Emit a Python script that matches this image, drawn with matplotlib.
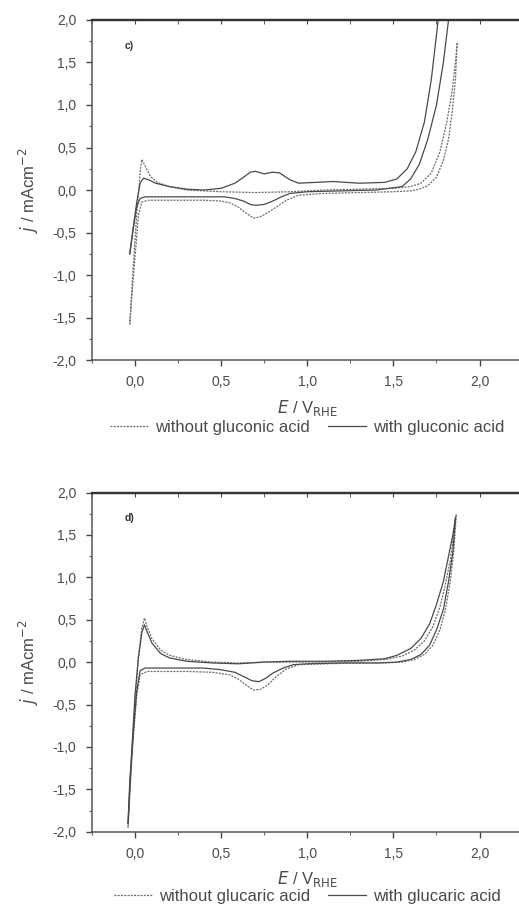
import numpy as np
import matplotlib.pyplot as plt
from matplotlib.ticker import MultipleLocator, FuncFormatter

plt.rcParams['font.family'] = ['Liberation Sans', 'DejaVu Sans']

# Panel c: gluconic acid --------------------------------------------------------------------------------------------
c_wo_up_E = [-0.03, -0.01, 0.01, 0.03, 0.04, 0.06, 0.09, 0.13, 0.2, 0.3, 0.5, 0.7, 0.9, 1.1, 1.3, 1.5, 1.6, 1.66,
             1.72, 1.77, 1.81, 1.84, 1.86, 1.87]
c_wo_up_j = [-1.58, -0.9, -0.3, 0.2, 0.36, 0.28, 0.16, 0.09, 0.04, 0.0, -0.02, -0.03, -0.02, 0.0, 0.01, 0.02, 0.04,
             0.08, 0.2, 0.45, 0.8, 1.15, 1.5, 1.73]
c_wo_dn_E = [1.87, 1.86, 1.84, 1.82, 1.79, 1.75, 1.7, 1.65, 1.6, 1.5, 1.3, 1.1, 0.95, 0.88, 0.82, 0.76, 0.72, 0.69,
             0.65, 0.6, 0.55, 0.5, 0.4, 0.2, 0.08, 0.04, 0.02, 0.0, -0.02, -0.03]
c_wo_dn_j = [1.73, 1.3, 0.9, 0.6, 0.35, 0.15, 0.05, 0.01, -0.01, -0.02, -0.03, -0.04, -0.06, -0.12, -0.2, -0.28,
             -0.32, -0.33, -0.28, -0.2, -0.15, -0.13, -0.12, -0.12, -0.12, -0.14, -0.3, -0.8, -1.3, -1.58]
c_w_up_E = [-0.03, -0.01, 0.01, 0.03, 0.05, 0.08, 0.12, 0.2, 0.3, 0.4, 0.5, 0.58, 0.63, 0.67, 0.7, 0.75, 0.8, 0.84,
            0.9, 0.95, 1.05, 1.15, 1.3, 1.45, 1.52, 1.58, 1.63, 1.68, 1.72, 1.76, 1.79]
c_w_up_j = [-0.75, -0.45, -0.15, 0.08, 0.14, 0.12, 0.08, 0.04, 0.01, 0.0, 0.02, 0.08, 0.15, 0.21, 0.22, 0.19, 0.21,
            0.2, 0.12, 0.08, 0.09, 0.1, 0.08, 0.09, 0.13, 0.25, 0.45, 0.8, 1.3, 2.0, 2.5]
c_w_dn_E = [1.87, 1.85, 1.82, 1.79, 1.75, 1.7, 1.65, 1.6, 1.55, 1.4, 1.2, 1.0, 0.9, 0.85, 0.8, 0.75, 0.7, 0.67,
            0.63, 0.58, 0.52, 0.45, 0.3, 0.15, 0.06, 0.03, 0.01, -0.01, -0.03]
c_w_dn_j = [3.0, 2.5, 2.0, 1.5, 1.0, 0.6, 0.3, 0.13, 0.04, 0.0, -0.01, -0.02, -0.04, -0.08, -0.13, -0.17, -0.18,
            -0.17, -0.13, -0.1, -0.08, -0.08, -0.08, -0.08, -0.08, -0.1, -0.2, -0.45, -0.75]

# Panel d: glucaric acid --------------------------------------------------------------------------------------------
d_wo_up_E = [-0.04, -0.02, 0.0, 0.02, 0.04, 0.055, 0.07, 0.1, 0.15, 0.2, 0.3, 0.45, 0.6, 0.75, 0.9, 1.1, 1.3, 1.45,
             1.55, 1.62, 1.68, 1.73, 1.77, 1.8, 1.83, 1.85, 1.865]
d_wo_up_j = [-1.95, -1.2, -0.5, 0.05, 0.4, 0.52, 0.42, 0.27, 0.14, 0.08, 0.03, 0.0, -0.01, 0.0, 0.0, 0.0, 0.01, 0.03,
             0.07, 0.14, 0.25, 0.42, 0.65, 0.9, 1.2, 1.5, 1.74]
d_wo_dn_E = [1.865, 1.85, 1.83, 1.8, 1.77, 1.73, 1.68, 1.62, 1.55, 1.45, 1.3, 1.1, 0.95, 0.88, 0.82, 0.77, 0.73, 0.69,
             0.65, 0.6, 0.55, 0.45, 0.3, 0.15, 0.07, 0.03, 0.01, -0.01, -0.03, -0.04]
d_wo_dn_j = [1.74, 1.3, 0.95, 0.6, 0.38, 0.2, 0.09, 0.03, 0.0, -0.01, -0.01, -0.02, -0.03, -0.08, -0.17, -0.27,
             -0.32, -0.33, -0.28, -0.2, -0.15, -0.12, -0.11, -0.11, -0.11, -0.15, -0.4, -0.9, -1.5, -1.95]
d_w_up_E = [-0.04, -0.02, 0.0, 0.02, 0.04, 0.055, 0.07, 0.1, 0.15, 0.2, 0.3, 0.45, 0.6, 0.75, 0.9, 1.1, 1.3, 1.45,
            1.52, 1.6, 1.66, 1.71, 1.75, 1.79, 1.82, 1.845, 1.86]
d_w_up_j = [-1.9, -1.1, -0.4, 0.05, 0.35, 0.44, 0.36, 0.22, 0.1, 0.05, 0.01, -0.01, -0.02, 0.0, 0.01, 0.01, 0.02,
            0.04, 0.08, 0.16, 0.28, 0.45, 0.68, 0.95, 1.25, 1.5, 1.7]
d_w_dn_E = [1.86, 1.845, 1.82, 1.79, 1.75, 1.71, 1.66, 1.6, 1.52, 1.4, 1.2, 1.0, 0.92, 0.86, 0.8, 0.76, 0.72, 0.68,
            0.64, 0.58, 0.5, 0.4, 0.25, 0.12, 0.06, 0.03, 0.01, -0.01, -0.03, -0.04]
d_w_dn_j = [1.7, 1.3, 0.95, 0.62, 0.38, 0.2, 0.09, 0.03, 0.0, -0.01, -0.01, -0.02, -0.03, -0.07, -0.13, -0.19,
            -0.23, -0.22, -0.18, -0.12, -0.09, -0.07, -0.07, -0.07, -0.07, -0.1, -0.35, -0.85, -1.4, -1.9]

x_ticks = [0.0, 0.5, 1.0, 1.5, 2.0]
y_ticks = [-2.0, -1.5, -1.0, -0.5, 0.0, 0.5, 1.0, 1.5, 2.0]

line_col = '#4a4a4a'
dot_col = '#6a6a6a'
text_col = '#4a4a4a'
comma = FuncFormatter(lambda v, p: ('%.1f' % v).replace('.', ','))


def draw_panel(ax, wo, w, letter, acid, leg_y):
    l1, = ax.plot(wo[0], wo[1], color=dot_col, lw=0.9, dashes=(1.6, 1.0))
    ax.plot(wo[2], wo[3], color=dot_col, lw=0.9, dashes=(1.6, 1.0))
    l2, = ax.plot(w[0], w[1], color=line_col, lw=0.9)
    ax.plot(w[2], w[3], color=line_col, lw=0.9)

    ax.set_xlim(-0.25, 2.25)
    ax.set_ylim(-2.0, 2.0)
    ax.set_xticks(x_ticks)
    ax.set_yticks(y_ticks)
    ax.xaxis.set_minor_locator(MultipleLocator(0.25))
    ax.yaxis.set_minor_locator(MultipleLocator(0.25))
    ax.xaxis.set_major_formatter(comma)
    ax.yaxis.set_major_formatter(comma)
    ax.tick_params(which='major', direction='out', length=4, width=1.0, colors='#444', labelsize=10,
                   labelcolor=text_col, pad=7)
    ax.tick_params(which='minor', direction='out', length=2.5, width=0.8, colors='#666')

    secx = ax.secondary_xaxis('top')
    secx.set_xticks(x_ticks)
    secx.xaxis.set_minor_locator(MultipleLocator(0.25))
    secx.tick_params(which='both', direction='in', labeltop=False, length=3, colors='#444')
    secy = ax.secondary_yaxis('right')
    secy.set_yticks(y_ticks)
    secy.tick_params(which='both', direction='in', labelright=False, length=3, colors='#666')
    secy.spines['right'].set_linestyle(':')

    for s in ['left', 'bottom']:
        ax.spines[s].set_color('#555')
        ax.spines[s].set_linewidth(1.1)
    ax.spines['top'].set_color('#333')
    ax.spines['top'].set_linewidth(1.6)
    ax.spines['right'].set_visible(False)
    secx.spines['top'].set_color('#333')
    secx.spines['top'].set_linewidth(1.6)
    secy.spines['right'].set_color('#999')

    ax.text(0.075, 0.915, letter, transform=ax.transAxes, fontsize=7.5, fontweight='bold', color='#333')
    ax.set_xlabel('$E$ / V$_{\\mathrm{RHE}}$', fontsize=12, color=text_col, labelpad=6)
    ax.set_ylabel('$j$ / mAcm$^{-2}$', fontsize=12, color=text_col, labelpad=8)
    ax.legend([l1, l2], ['without %s acid' % acid, 'with %s acid' % acid], loc='center',
              bbox_to_anchor=(0.5, leg_y), ncol=2, frameon=False, fontsize=12, handlelength=2.3,
              columnspacing=1.1, handletextpad=0.4, labelcolor=text_col, borderpad=0.2)


fig = plt.figure(figsize=(5.19, 9.07), dpi=100)
ax1 = fig.add_axes([0.177, 0.603, 0.83, 0.375])
ax2 = fig.add_axes([0.177, 0.083, 0.83, 0.374])

draw_panel(ax1, (c_wo_up_E, c_wo_up_j, c_wo_dn_E, c_wo_dn_j), (c_w_up_E, c_w_up_j, c_w_dn_E, c_w_dn_j),
           'c)', 'gluconic', -0.197)
draw_panel(ax2, (d_wo_up_E, d_wo_up_j, d_wo_dn_E, d_wo_dn_j), (d_w_up_E, d_w_up_j, d_w_dn_E, d_w_dn_j),
           'd)', 'glucaric', -0.19)

fig.savefig('out.png', dpi=100)
